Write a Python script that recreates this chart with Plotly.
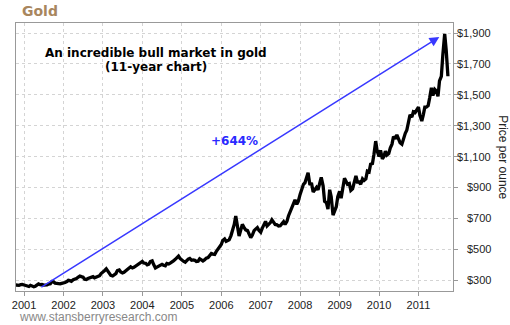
import pandas as pd
import plotly.graph_objects as go

# ---- data (semi-monthly gold price, USD/oz) ----
start_date = "2000-10-15"
prices = [
    268,
    265, 266, 270, 272,                                  # 2000 Nov-Dec
    268, 265, 262, 258, 266, 262, 257, 260, 266, 275, 270, 272,   # 2001 H1
    267, 265, 268, 274, 276, 290, 288, 280, 278, 274, 275, 278,   # 2001 H2
    279, 284, 290, 298, 296, 292, 302, 305, 310, 318, 326, 322,   # 2002 H1
    318, 306, 304, 310, 316, 322, 322, 314, 318, 320, 328, 342,   # 2002 H2
    350, 360, 372, 355, 348, 330, 326, 332, 342, 362, 366, 352,   # 2003 H1
    346, 350, 358, 368, 378, 386, 378, 382, 390, 396, 404, 412,   # 2003 H2
    420, 410, 408, 398, 402, 420, 424, 400, 378, 384, 390, 396,   # 2004 H1
    402, 396, 392, 408, 404, 410, 416, 424, 434, 442, 455, 440,   # 2004 H2
    428, 422, 416, 430, 436, 440, 428, 430, 428, 420, 422, 438,   # 2005 H1
    430, 424, 432, 442, 446, 462, 472, 468, 466, 484, 500, 522,   # 2005 H2
    530, 556, 566, 550, 558, 560, 588, 620, 660, 715, 640, 585,   # 2006 H1
    625, 660, 640, 625, 620, 595, 575, 590, 620, 630, 640, 622,   # 2006 H2
    610, 635, 655, 680, 650, 658, 672, 690, 678, 660, 658, 650,   # 2007 H1
    652, 668, 678, 660, 680, 715, 740, 760, 790, 820, 790, 810,   # 2007 H2
    855, 890, 920, 930, 975, 995, 915, 930, 870, 885, 900, 885,   # 2008 H1
    925, 965, 910, 810, 800, 760, 885, 840, 720, 740, 775, 840,   # 2008 H2
    875, 830, 905, 960, 940, 920, 925, 880, 890, 930, 975, 935,   # 2009 H1
    935, 920, 955, 945, 955, 1005, 1000, 1050, 1055, 1115, 1200, 1135,  # 2009 H2
    1100, 1140, 1085, 1100, 1135, 1110, 1120, 1155, 1180, 1230, 1215, 1240,  # 2010 H1
    1210, 1190, 1180, 1220, 1250, 1270, 1315, 1370, 1355, 1390, 1385, 1400,  # 2010 H2
    1420, 1365, 1330, 1370, 1420, 1420, 1430, 1480, 1545, 1495, 1535, 1525,  # 2011 H1
    1490, 1590, 1620, 1760, 1895, 1790,                   # 2011 Jul-Sep
    1620,                                                # 2011 Oct
]
dates = pd.date_range(start=start_date, periods=len(prices), freq="SMS")

year_ticks = [str(y) for y in range(2001, 2012)]
price_ticks = [300, 500, 700, 900, 1100, 1300, 1500, 1700, 1900]
price_tick_labels = ["$300", "$500", "$700", "$900", "$1,100", "$1,300",
                     "$1,500", "$1,700", "$1,900"]

arrow_start = ("2001-05-27", 248)
arrow_end = ("2011-07-13", 1874)

# ---- figure ----
fig = go.Figure()
fig.add_trace(go.Scatter(
    x=dates, y=prices, mode="lines",
    line=dict(color="black", width=3.3),
    hoverinfo="skip", showlegend=False,
))

axis_font = dict(family="Liberation Sans, Arial, sans-serif", size=11, color="#222222")

fig.update_layout(
    width=510, height=325,
    margin=dict(l=14, r=57, t=23, b=34),
    paper_bgcolor="white", plot_bgcolor="white",
    showlegend=False,
    xaxis=dict(
        type="date",
        range=["2000-10-18", "2011-11-17"],
        tickvals=[f"{y}-01-01" for y in year_ticks],
        ticktext=year_ticks,
        tickfont=axis_font,
        ticks="outside", ticklen=4, tickcolor="#999999",
        showgrid=True, gridcolor="#d4d4d4", griddash="dot", gridwidth=1,
        showline=True, linecolor="#999999", linewidth=1, mirror=True,
        zeroline=False,
    ),
    yaxis=dict(
        side="right",
        range=[229, 1965],
        tickvals=price_ticks,
        showticklabels=False,
        ticks="outside", ticklen=4, tickcolor="#999999",
        showgrid=True, gridcolor="#d4d4d4", griddash="dot", gridwidth=1,
        showline=True, linecolor="#999999", linewidth=1, mirror=True,
        zeroline=False,
    ),
)

# right-aligned price labels
for v, t in zip(price_ticks, price_tick_labels):
    fig.add_annotation(
        x=1.0911, xref="paper", y=v, yref="y",
        text=t, showarrow=False, xanchor="right", yanchor="middle",
        font=axis_font,
    )

# arrow
fig.add_annotation(
    x=arrow_end[0], y=arrow_end[1], xref="x", yref="y",
    ax=arrow_start[0], ay=arrow_start[1], axref="x", ayref="y",
    text="", showarrow=True,
    arrowhead=2, arrowsize=1.3, arrowwidth=1.5, arrowcolor="#3838ff",
)

bold_font = "DejaVu Sans, Verdana, sans-serif"
fig.add_annotation(
    x=0.321, y=0.888, xref="paper", yref="paper",
    text="<b>An incredible bull market in gold</b>", showarrow=False,
    xanchor="center", yanchor="middle",
    font=dict(family=bold_font, size=12, color="black"),
)
fig.add_annotation(
    x=0.321, y=0.836, xref="paper", yref="paper",
    text="<b>(11-year chart)</b>", showarrow=False,
    xanchor="center", yanchor="middle",
    font=dict(family=bold_font, size=12, color="black"),
)
fig.add_annotation(
    x=0.501, y=0.560, xref="paper", yref="paper",
    text="<b>+644%</b>", showarrow=False,
    xanchor="center", yanchor="middle",
    font=dict(family=bold_font, size=12, color="#2a2aff"),
)

# title
fig.add_annotation(
    x=0.009, y=1.045, xref="paper", yref="paper",
    text="<b>Gold</b>", showarrow=False,
    xanchor="left", yanchor="middle",
    font=dict(family=bold_font, size=14, color="#a8865e"),
)
# axis title
fig.add_annotation(
    x=1.114, y=0.5, xref="paper", yref="paper",
    text="Price per ounce", showarrow=False, textangle=90,
    xanchor="center", yanchor="middle",
    font=dict(family="Liberation Sans, Arial, sans-serif", size=12, color="#222222"),
)
# watermark
fig.add_annotation(
    x=0.002, y=-0.097, xref="paper", yref="paper",
    text="www.stansberryresearch.com", showarrow=False,
    xanchor="left", yanchor="middle",
    font=dict(family="Liberation Sans, Arial, sans-serif", size=12, color="#888888"),
)

fig.write_html("out.html")
